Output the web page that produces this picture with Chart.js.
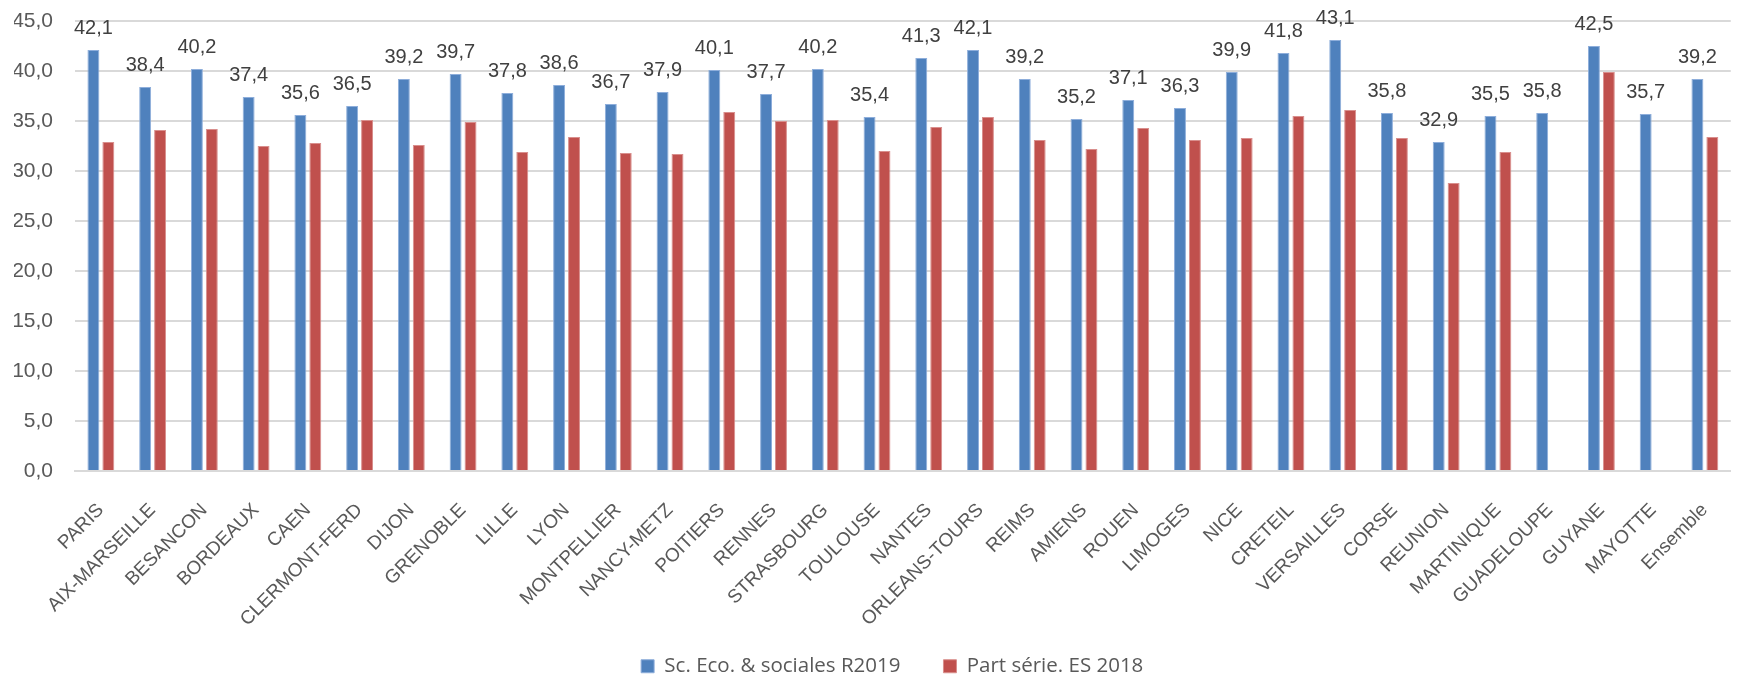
<!DOCTYPE html>
<html>
<head>
<meta charset="utf-8">
<script src="https://cdn.jsdelivr.net/npm/chart.js@4.4.0/dist/chart.umd.min.js"></script>
<style>
  html, body { margin: 0; padding: 0; background: #ffffff; }
  #wrap { width: 1741px; height: 675px; position: relative; }
</style>
</head>
<body>
<div id="wrap"><canvas id="c" width="1741" height="675"></canvas></div>
<script>
const categories = ["PARIS","AIX-MARSEILLE","BESANCON","BORDEAUX","CAEN","CLERMONT-FERD","DIJON","GRENOBLE","LILLE","LYON","MONTPELLIER","NANCY-METZ","POITIERS","RENNES","STRASBOURG","TOULOUSE","NANTES","ORLEANS-TOURS","REIMS","AMIENS","ROUEN","LIMOGES","NICE","CRETEIL","VERSAILLES","CORSE","REUNION","MARTINIQUE","GUADELOUPE","GUYANE","MAYOTTE","Ensemble"];
const seriesNames = ["Sc. Eco. & sociales R2019", "Part série. ES 2018"];
const valuesR2019 = [42.1,38.4,40.2,37.4,35.6,36.5,39.2,39.7,37.8,38.6,36.7,37.9,40.1,37.7,40.2,35.4,41.3,42.1,39.2,35.2,37.1,36.3,39.9,41.8,43.1,35.8,32.9,35.5,35.8,42.5,35.7,39.2];
const valuesES2018 = [32.9,34.1,34.2,32.5,32.8,35.1,32.6,34.9,31.9,33.4,31.8,31.7,35.9,35.0,35.1,32.0,34.4,35.4,33.1,32.2,34.3,33.1,33.3,35.5,36.1,33.3,28.8,31.9,null,39.9,null,33.4];
const yTicks = [0,5,10,15,20,25,30,35,40,45];

const fmt = v => v.toFixed(1).replace('.', ',');

const valueLabels = {
  id: 'valueLabels',
  afterDatasetsDraw(chart) {
    const ctx = chart.ctx;
    const meta = chart.getDatasetMeta(0);
    ctx.save();
    ctx.font = '20px "Liberation Sans", Arial, sans-serif';
    ctx.fillStyle = '#404040';
    ctx.textAlign = 'center';
    ctx.textBaseline = 'alphabetic';
    meta.data.forEach((bar, i) => {
      const v = chart.data.datasets[0].data[i];
      if (v == null) return;
      ctx.fillText(fmt(v), bar.x, bar.y - 16);
    });
    ctx.restore();
  }
};

// let the rotated category labels extend below the axis box (avoid clipping)
const extendLabelArea = {
  id: 'extendLabelArea',
  afterLayout(chart) {
    chart.scales.x.bottom = chart.height;
  }
};

new Chart(document.getElementById('c'), {
  type: 'bar',
  data: {
    labels: categories,
    datasets: [
      { label: seriesNames[0], data: valuesR2019, backgroundColor: '#4f81bd',
        borderWidth: 1, borderColor: '#8eaedb',
        categoryPercentage: 0.577, barPercentage: 0.8 },
      { label: seriesNames[1], data: valuesES2018, backgroundColor: '#c0504d',
        borderWidth: 1, borderColor: '#d98f8d',
        categoryPercentage: 0.577, barPercentage: 0.8 }
    ]
  },
  options: {
    responsive: false,
    animation: false,
    layout: { padding: { left: 14, right: 0, top: 21, bottom: 0 } },
    plugins: {
      legend: {
        position: 'bottom',
        fullSize: false,
        maxHeight: 62,
        labels: {
          font: { family: '"Open Sans", sans-serif', size: 20.5 },
          color: '#595959',
          boxWidth: 13,
          boxHeight: 13,
          padding: 43,
          generateLabels(chart) {
            const items = Chart.defaults.plugins.legend.labels.generateLabels(chart);
            items[items.length - 1].text += '    ';
            return items;
          }
        }
      },
      tooltip: { enabled: false }
    },
    scales: {
      x: {
        afterFit(scale) { scale.height = 142; },
        grid: { display: false },
        border: { display: true, color: '#d9d9d9', width: 2 },
        ticks: {
          autoSkip: false,
          maxRotation: 45,
          minRotation: 45,
          padding: 20,
          color: '#595959',
          font: { family: '"Liberation Sans", Arial, sans-serif', size: 19 }
        }
      },
      y: {
        min: 0,
        max: 45,
        afterFit(scale) { scale.width = 61; scale.paddingTop = 0; scale.paddingBottom = 0; },
        afterBuildTicks(scale) { scale.ticks = yTicks.map(v => ({ value: v })); },
        grid: { color: '#d9d9d9', lineWidth: 2, drawTicks: false },
        border: { display: false },
        ticks: {
          padding: 22,
          color: '#595959',
          font: { family: '"Liberation Sans", Arial, sans-serif', size: 21 },
          callback: v => fmt(v)
        }
      }
    }
  },
  plugins: [valueLabels, extendLabelArea]
});
</script>
</body>
</html>
